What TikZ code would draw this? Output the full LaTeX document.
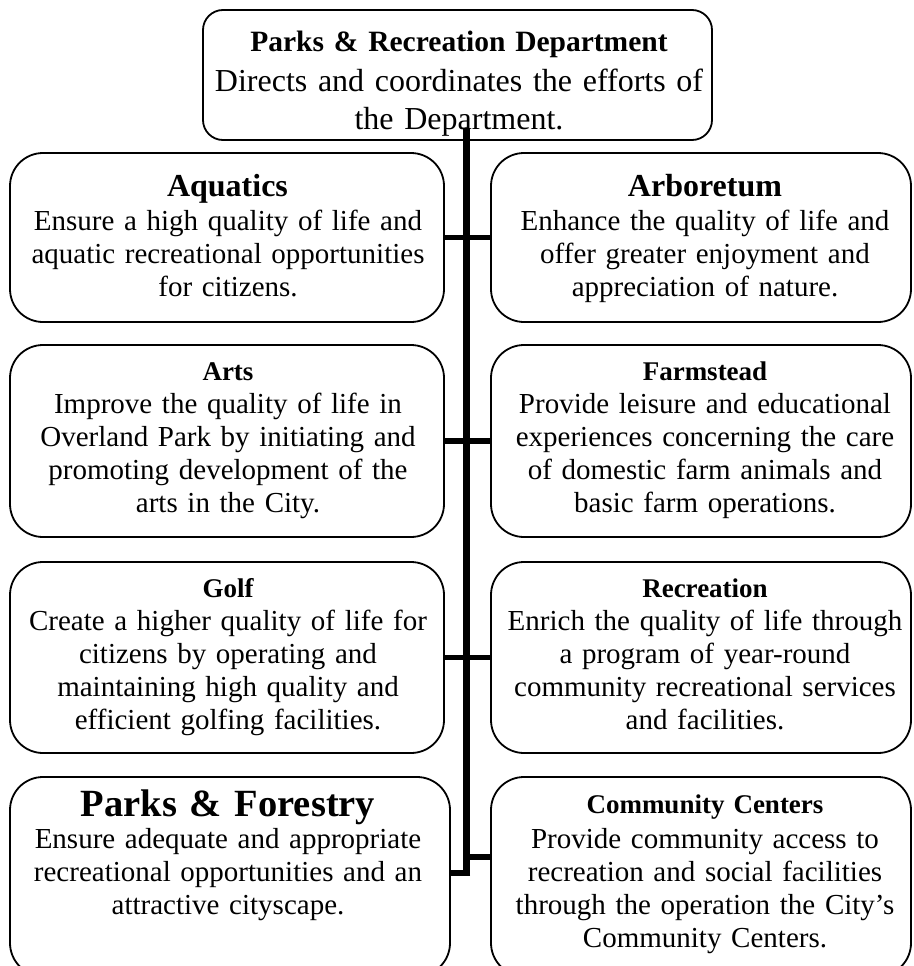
\documentclass[tikz,border=0pt]{standalone}
\usepackage{fontspec}
\setmainfont{Liberation Serif}
% font set-ups; interword space fixed at a quarter em, no stretch
\newcommand\wordspace{\spaceskip=0.25em\relax\xspaceskip=0.25em\relax}
\newcommand\headtitle{\fontsize{29.5}{38.5}\selectfont\bfseries\wordspace}
\newcommand\headbody{\fontsize{32}{38.5}\selectfont\wordspace}
\newcommand\bigtitle{\fontsize{32}{36}\selectfont\bfseries\wordspace}
\newcommand\hugetitle{\fontsize{38.5}{42}\selectfont\bfseries\wordspace}
\newcommand\smalltitle{\fontsize{27}{31}\selectfont\bfseries\wordspace}
\newcommand\bodytext{\fontsize{29}{33}\selectfont\wordspace}
\begin{document}
\begin{tikzpicture}[x=1pt,y=-1pt,
  unitbox/.style={draw, line width=1.8pt, rounded corners=33pt, inner sep=0pt,
    minimum width=434pt},
  rightbox/.style={unitbox, minimum width=420pt},
  headbox/.style={unitbox, rounded corners=20pt, minimum width=509pt, minimum height=130pt},
  txt/.style={anchor=base, align=center, inner sep=0pt, text width=#1},
  trunk/.style={line width=7pt},
  branch/.style={line width=5.5pt}]
\useasboundingbox (0,0) rectangle (913,966);

% department head
\node[headbox] (head) at (457.5,75) {};
\node[txt=500pt, font=\headtitle] (headt) at (459,52) {Parks \& Recreation Department};
\node[txt=500pt, font=\headbody] (headb) at (459,91) {Directs and coordinates the efforts of\\ the Department.};

% division boxes
\node[unitbox, minimum height=169pt] (aq) at (227,237.5) {};
\node[rightbox, minimum height=169pt] (ar) at (701,237.5) {};
\node[unitbox, minimum height=192pt] (arts) at (227,441) {};
\node[rightbox, minimum height=192pt] (farm) at (701,441) {};
\node[unitbox, minimum height=191pt] (golf) at (227,657.5) {};
\node[rightbox, minimum height=191pt] (rec) at (701,657.5) {};
\node[unitbox, minimum width=440pt, minimum height=199pt] (pf) at (230,876.5) {};
\node[rightbox, minimum height=199pt] (cc) at (701,876.5) {};

% division titles
\node[txt=420pt, font=\bigtitle] (aqt) at (227.5,196) {Aquatics};
\node[txt=410pt, font=\bigtitle] (art) at (705,196) {Arboretum};
\node[txt=420pt, font=\smalltitle] (artst) at (228,380) {Arts};
\node[txt=410pt, font=\smalltitle] (farmt) at (705,380) {Farmstead};
\node[txt=420pt, font=\smalltitle] (golft) at (228,597) {Golf};
\node[txt=410pt, font=\smalltitle] (rect) at (705,597) {Recreation};
\node[txt=430pt, font=\hugetitle] (pft) at (228,816) {Parks \& Forestry};
\node[txt=410pt, font=\smalltitle] (cct) at (705,813) {Community Centers};

% division descriptions
\node[txt=432pt, font=\bodytext] (aqb) at (228,230) {Ensure a high quality of life and\\ aquatic recreational opportunities\\ for citizens.};
\node[txt=418pt, font=\bodytext] (arb) at (705,230) {Enhance the quality of life and\\ offer greater enjoyment and\\ appreciation of nature.};
\node[txt=432pt, font=\bodytext] (artsb) at (228,413) {Improve the quality of life in\\ Overland Park by initiating and\\ promoting development of the\\ arts in the City.};
\node[txt=418pt, font=\bodytext] (farmb) at (705,413) {Provide leisure and educational\\ experiences concerning the care\\ of domestic farm animals and\\ basic farm operations.};
\node[txt=432pt, font=\bodytext] (golfb) at (228,630) {Create a higher quality of life for\\ citizens by operating and\\ maintaining high quality and\\ efficient golfing facilities.};
\node[txt=418pt, font=\bodytext] (recb) at (705,630) {Enrich the quality of life through\\ a program of year-round\\ community recreational services\\ and facilities.};
\node[txt=436pt, font=\bodytext] (pfb) at (228,848) {Ensure adequate and appropriate\\ recreational opportunities and an\\ attractive cityscape.};
\node[txt=418pt, font=\bodytext] (ccb) at (705,848) {Provide community access to\\ recreation and social facilities\\ through the operation the City’s\\ Community Centers.};

% connectors
\coordinate (trunktop) at (466.5,128);
\coordinate (trunkbot) at (466.5,873);
\coordinate (ccjoin) at (466.5,857);
\draw[trunk] (trunktop) -- (trunkbot);
\draw[branch] (aq.east) -- (ar.west);
\draw[branch] (arts.east) -- (farm.west);
\draw[branch] (golf.east) -- (rec.west);
\draw[branch] ([xshift=3.5pt]trunkbot) -- (trunkbot -| pf.east);
\draw[branch] (ccjoin) -- (ccjoin -| cc.west);
\end{tikzpicture}
\end{document}
